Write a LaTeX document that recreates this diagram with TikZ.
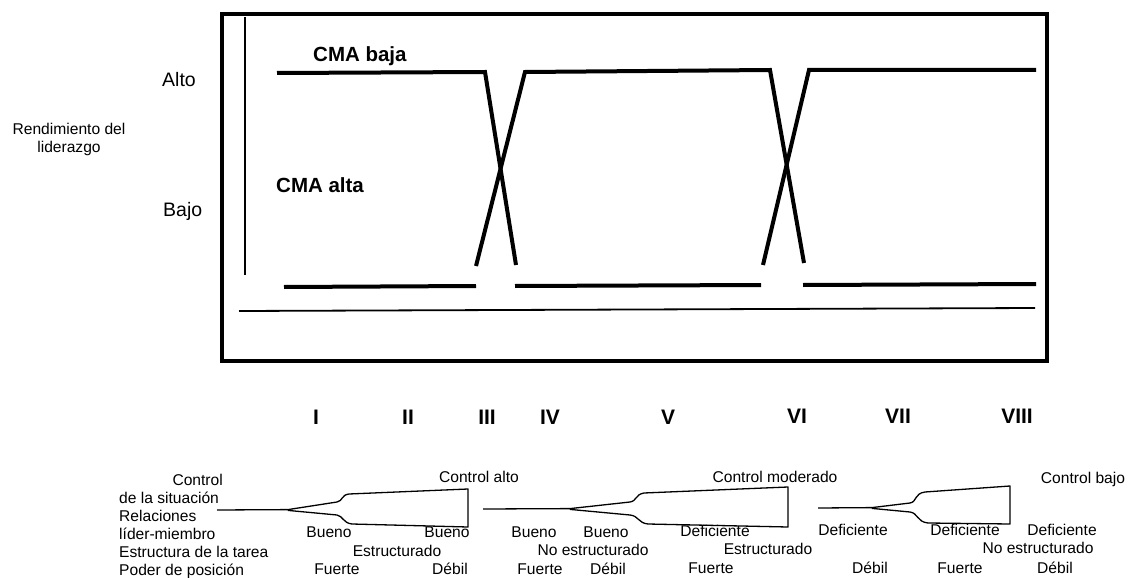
\documentclass[tikz,border=0pt]{standalone}
\usepackage{fontspec}
\setmainfont{Liberation Sans}
\begin{document}
\begin{tikzpicture}[x=1pt,y=-1pt,
  frame/.style={line width=4.5pt},
  curveline/.style={line width=4pt},
  thinline/.style={line width=1.8pt},
  tree/.style={line width=1.3pt, line join=round},
  small/.style={inner sep=0pt, font=\fontsize{15.6}{18}\selectfont},
  cell/.style={small, anchor=base},
  axislbl/.style={inner sep=0pt, anchor=base west, font=\fontsize{19.5}{22}\selectfont},
  curvelbl/.style={inner sep=0pt, anchor=base west, font=\fontsize{20.5}{24}\selectfont\bfseries},
  numeral/.style={inner sep=0pt, anchor=base, font=\fontsize{21}{24}\selectfont\bfseries},
]
\useasboundingbox (0,0) rectangle (1128,578);

% ---- plot frame and axes ----
\draw[frame] (222,14) rectangle (1047,361);
\draw[thinline] (245,17) -- (245,275);
\draw[thinline] (239,311) -- (1035,308);

% ---- CMA baja (high) and CMA alta (low) curves ----
\draw[curveline] (277,73) -- (485,72) -- (516,265);
\draw[curveline] (476,266) -- (525,72) -- (770,70) -- (804,263);
\draw[curveline] (763,265) -- (809,70) -- (1036,70);
\draw[curveline] (284,287) -- (476,286);
\draw[curveline] (515,286) -- (761,285);
\draw[curveline] (803,285) -- (1036,284);

\node[curvelbl] (baja) at (313,62) {CMA baja};
\node[curvelbl] (alta) at (276,192) {CMA alta};

% ---- y-axis labels ----
\node[axislbl] (alto) at (162,87) {Alto};
\node[axislbl] (bajo) at (163,216) {Bajo};
\node[small, align=center, anchor=base] (rend) at (69,152) {Rendimiento del\\liderazgo};

% ---- octant numerals ----
\node[numeral] (o1) at (316,424) {I};
\node[numeral] (o2) at (408,424) {II};
\node[numeral] (o3) at (487,424) {III};
\node[numeral] (o4) at (550,424) {IV};
\node[numeral] (o5) at (668,424) {V};
\node[numeral] (o6) at (797,423) {VI};
\node[numeral] (o7) at (898,423) {VII};
\node[numeral] (o8) at (1017,423) {VIII};

% ---- row labels ----
\node[small, anchor=base east] (rctl) at (223,485) {Control};
\node[small, anchor=base west] (rsit) at (119,503) {de la situación};
\node[small, anchor=base west] (rrel) at (119,521) {Relaciones};
\node[small, anchor=base west] (rlm) at (119,539) {líder-miembro};
\node[small, anchor=base west] (rest) at (119,557) {Estructura de la tarea};
\node[small, anchor=base west] (rpod) at (119,575) {Poder de posición};

% ---- control headers ----
\node[cell] (calto) at (479,482) {Control alto};
\node[cell] (cmod) at (775,482) {Control moderado};
\node[cell] (cbajo) at (1083,483) {Control bajo};

% ---- branching brackets ----
\draw[tree] (217,510) -- (288,509.6) -- (337,502)
  .. controls (343,501) and (341,495) .. (349,494) -- (468,489) -- (468,527)
  -- (352,524) .. controls (343,523) and (343,516) .. (337,515) -- (288,510.4);
\draw[tree] (483,509) -- (570,508.6) -- (630,502)
  .. controls (637,501) and (635,494.5) .. (644,493) -- (788,487) -- (788,527)
  -- (648,524) .. controls (638,523) and (639,516) .. (630,515) -- (570,509.4);
\draw[tree] (818,508) -- (872,507.6) -- (910,503)
  .. controls (917,502) and (914,493.5) .. (925,492) -- (1010,486) -- (1010,524)
  -- (928,523) .. controls (917,522) and (918,513) .. (910,512) -- (872,508.4);

% ---- leader-member relations ----
\node[cell] (lm1) at (329,537) {Bueno};
\node[cell] (lm2) at (447,537) {Bueno};
\node[cell] (lm3) at (534,537) {Bueno};
\node[cell] (lm4) at (606,537) {Bueno};
\node[cell] (lm5) at (715,536) {Deficiente};
\node[cell] (lm6) at (853,535) {Deficiente};
\node[cell] (lm7) at (965,535) {Deficiente};
\node[cell] (lm8) at (1062,535) {Deficiente};

% ---- task structure ----
\node[cell] (ts1) at (397,556) {Estructurado};
\node[cell] (ts2) at (593,555) {No estructurado};
\node[cell] (ts3) at (768,554) {Estructurado};
\node[cell] (ts4) at (1038,553) {No estructurado};

% ---- position power ----
\node[cell] (pp1) at (337,574) {Fuerte};
\node[cell] (pp2) at (450,574) {Débil};
\node[cell] (pp3) at (540,574) {Fuerte};
\node[cell] (pp4) at (608,574) {Débil};
\node[cell] (pp5) at (711,573) {Fuerte};
\node[cell] (pp6) at (870,573) {Débil};
\node[cell] (pp7) at (960,573) {Fuerte};
\node[cell] (pp8) at (1055,573) {Débil};
\end{tikzpicture}
\end{document}
